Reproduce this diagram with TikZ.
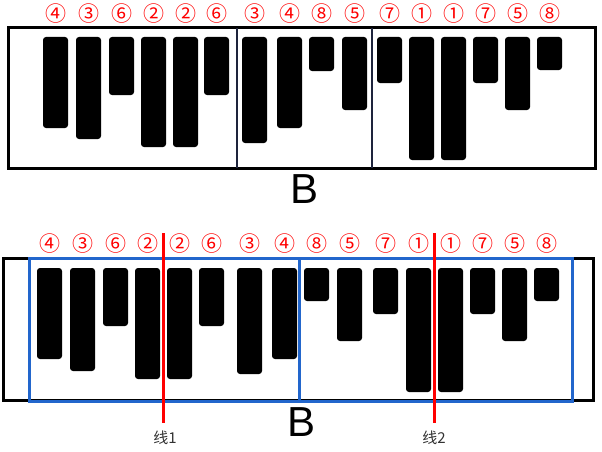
\documentclass[tikz,border=0pt]{standalone}
\usepackage{fontspec}
\setmainfont{Liberation Sans}
\newfontfamily\cjk{Noto Sans CJK SC}
\definecolor{framenavy}{RGB}{30,36,60}
\definecolor{boxblue}{RGB}{34,102,204}
\definecolor{lblgray}{RGB}{51,51,51}
\begin{document}
\begin{tikzpicture}[x=1pt,y=-1pt,
  bar/.style={fill=black,rounded corners=3pt},
  num/.style={text=red,font=\cjk\fontsize{21}{21}\selectfont,inner sep=0pt},
  bigletter/.style={font=\fontsize{42}{42}\selectfont,inner sep=0pt},
  linelabel/.style={text=lblgray,font=\cjk\fontsize{15}{15}\selectfont,inner sep=0pt}]
  \useasboundingbox (0,0) rectangle (602,452);

  % Upper strip
  \draw[line width=3pt] (8,28) rectangle (595,168);
  \draw[framenavy,line width=1.5pt] (237,28) -- (237,168);
  \draw[framenavy,line width=1.5pt] (372,28) -- (372,168);
  \foreach \x/\y/\d [count=\i] in {43/128/④,76/139/③,109/95/⑥,141/147/②,173/147/②,204/95/⑥,
      242/143/③,277/128/④,309/71/⑧,342/110/⑤,377/83/⑦,409/160/①,441/160/①,473/83/⑦,505/110/⑤,537/70/⑧}{
    \fill[bar] (\x,37) rectangle (\x+25,\y);
    \node[num] (up\i) at (\x+12.5,14) {\d};
  }
  \node[bigletter] (Bup) at (305,189) {B};

  % Lower strip
  \draw[line width=3pt] (3,258) rectangle (593,400);
  \draw[boxblue,line width=3pt] (29,258) rectangle (572,401);
  \draw[boxblue,line width=3pt] (299,258) -- (299,401);
  \foreach \x/\y/\d [count=\i] in {37/359/④,70/371/③,103/326/⑥,135/379/②,167/379/②,199/326/⑥,
      237/374/③,272/359/④,304/301/⑧,337/341/⑤,373/314/⑦,406/392/①,438/392/①,470/314/⑦,502/341/⑤,534/301/⑧}{
    \fill[bar] (\x,268) rectangle (\x+25,\y);
    \node[num] (lo\i) at (\x+12.5,244) {\d};
  }
  \node[bigletter] (Blo) at (302,422) {B};

  % Cut lines
  \coordinate (cutA1) at (163,233);
  \coordinate (cutA2) at (163,423);
  \coordinate (cutB1) at (434,233);
  \coordinate (cutB2) at (434,423);
  \draw[red,line width=3pt] (cutA1) -- (cutA2);
  \draw[red,line width=3pt] (cutB1) -- (cutB2);
  \node[linelabel] (cutAlbl) at (165,438) {线1};
  \node[linelabel] (cutBlbl) at (434,438) {线2};
\end{tikzpicture}
\end{document}
